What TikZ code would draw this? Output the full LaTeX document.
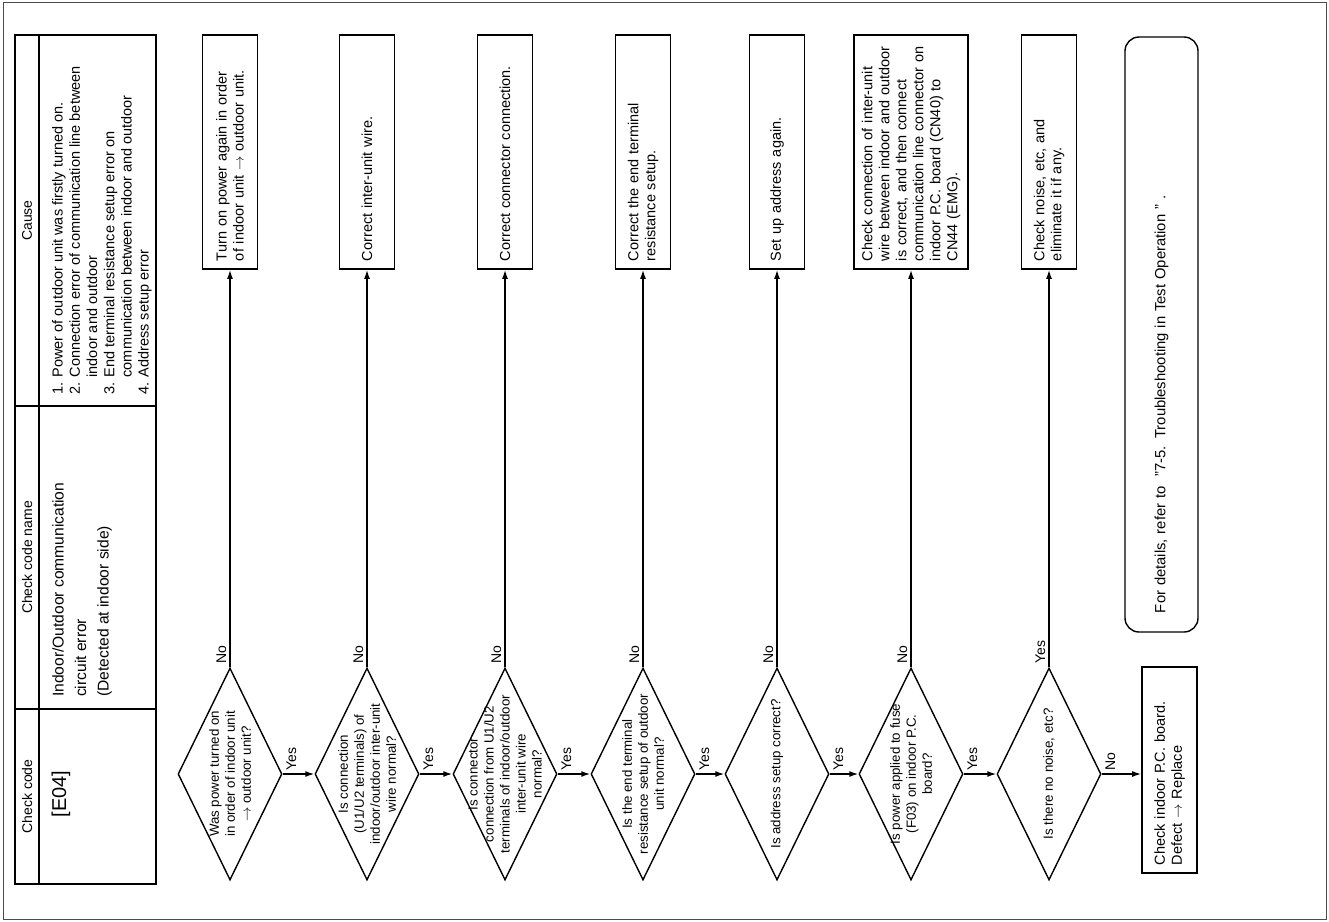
\documentclass[tikz,border=0pt]{standalone}
\usepackage{fontspec}
\setmainfont{Liberation Sans}
\usepackage{tikz}
\usetikzlibrary{shapes.geometric,arrows.meta}

\begin{document}
\begin{tikzpicture}[x=1pt, y=-1pt,
        decision/.style={diamond, draw, line width=1.4pt, minimum width=104pt, minimum height=212pt, inner sep=0pt},
        qtext/.style={rotate=90, align=center, inner sep=0pt, font=\fontsize{13.3}{16}\selectfont},
        action/.style={draw, line width=1.7pt, rotate=90, minimum width=234pt, minimum height=55pt, text width=218pt, inner xsep=8pt, inner ysep=3pt, align=left, font=\fontsize{14.5}{17}\selectfont},
        cell/.style={rotate=90, inner sep=0pt, font=\fontsize{14}{16}\selectfont},
        lab/.style={rotate=90, inner sep=3pt, font=\fontsize{14}{16}\selectfont},
        conn/.style={line width=1.4pt, -{Latex[length=9pt,width=6pt]}}]
        \useasboundingbox (0,0) rectangle (1329,921);
        \draw[black!70, line width=1pt] (3,2) rectangle (1326,919);
        % table
        \draw[line width=2.6pt] (15,35) rectangle (156,884);
        \draw[line width=1.3pt] (39,35) -- (39,884);
        \draw[line width=1.3pt] (15,406) -- (156,406) (15,709) -- (156,709);
        \node[cell] (hcause) at (27,220.5) {Cause};
        \node[cell] (hname) at (27,557.5) {Check code name};
        \node[cell] (hcode) at (27,796.5) {Check code};
        \node[cell, font=\fontsize{20}{22}\selectfont] (code) at (61,794) {[E04]};
        \node[cell, anchor=north west, align=left, font=\fontsize{15.6}{22.5}\selectfont] (name) at (52,697)
            {Indoor/Outdoor communication\\circuit error\\(Detected at indoor side)};
        \node[cell, anchor=north west, align=left, font=\fontsize{14.5}{17.2}\selectfont] (cause) at (52,395)
            {1. Power of outdoor unit was firstly turned on.\\%
             2. Connection error of communication line between\\%
             \phantom{2. }indoor and outdoor\\%
             3. End terminal resistance setup error on\\%
             \phantom{3. }communication between indoor and outdoor\\%
             4. Address setup error};
        % questions
        \node[decision, label={[qtext]center:{Was power turned on\\in order of indoor unit\\$\rightarrow$ outdoor unit?}}] (q1) at (230,774) {};
        \node[decision, label={[qtext]center:{Is connection\\(U1/U2 terminals) of\\indoor/outdoor inter-unit\\wire normal?}}] (q2) at (367,774) {};
        \node[decision, label={[qtext]center:{Is connector\\connection from U1/U2\\terminals of indoor/outdoor\\inter-unit wire\\normal?}}] (q3) at (505,774) {};
        \node[decision, label={[qtext]center:{Is the end terminal\\resistance setup of outdoor\\unit normal?}}] (q4) at (643,774) {};
        \node[decision, label={[qtext]center:{Is address setup correct?}}] (q5) at (777,774) {};
        \node[decision, label={[qtext]center:{Is power applied to fuse\\(F03) on indoor P.C.\\board?}}] (q6) at (911,774) {};
        \node[decision, label={[qtext]center:{Is there no noise, etc?}}] (q7) at (1049,774) {};
        % remedies
        \node[action] (a1) at (230,152) {Turn on power again in order\\of indoor unit $\rightarrow$ outdoor unit.};
        \node[action] (a2) at (367,152) {Correct inter-unit wire.};
        \node[action] (a3) at (505,152) {Correct connector connection.};
        \node[action] (a4) at (643,152) {Correct the end terminal\\resistance setup.};
        \node[action] (a5) at (777,152) {Set up address again.};
        \node[action, minimum height=114pt] (a6) at (911,152) {Check connection of inter-unit\\wire between indoor and outdoor\\is correct, and then connect\\communication line connector on\\indoor P.C. board (CN40) to\\CN44 (EMG).};
        \node[action] (a7) at (1049,152) {Check noise, etc, and\\eliminate it if any.};
        \node[action, minimum width=206pt, text width=190pt] (fin) at (1169.5,770) {Check indoor P.C. board.\\Defect $\rightarrow$ Replace};
        \node[action, rounded corners=14pt, line width=1.4pt, minimum width=595pt, minimum height=73pt, text width=557pt, inner xsep=19pt, font=\fontsize{14.8}{17}\selectfont] (ref) at (1161.5,334.5)
            {For details, refer to\ \ "7-5. Troubleshooting in Test Operation " .};
        % connectors
        \draw[conn] (q1.north) -- node[lab, pos=0, anchor=south west] (n1) {No} (a1.west);
        \draw[conn] (q2.north) -- node[lab, pos=0, anchor=south west] (n2) {No} (a2.west);
        \draw[conn] (q3.north) -- node[lab, pos=0, anchor=south west] (n3) {No} (a3.west);
        \draw[conn] (q4.north) -- node[lab, pos=0, anchor=south west] (n4) {No} (a4.west);
        \draw[conn] (q5.north) -- node[lab, pos=0, anchor=south west] (n5) {No} (a5.west);
        \draw[conn] (q6.north) -- node[lab, pos=0, anchor=south west] (n6) {No} (a6.west);
        \draw[conn] (q7.north) -- node[lab, pos=0, anchor=south west] (y7) {Yes} (a7.west);
        \draw[conn] (q1.east) -- node[lab, pos=0, anchor=north west] (y1) {Yes} (q2.west);
        \draw[conn] (q2.east) -- node[lab, pos=0, anchor=north west] (y2) {Yes} (q3.west);
        \draw[conn] (q3.east) -- node[lab, pos=0, anchor=north west] (y3) {Yes} (q4.west);
        \draw[conn] (q4.east) -- node[lab, pos=0, anchor=north west] (y4) {Yes} (q5.west);
        \draw[conn] (q5.east) -- node[lab, pos=0, anchor=north west] (y5) {Yes} (q6.west);
        \draw[conn] (q6.east) -- node[lab, pos=0, anchor=north west] (y6) {Yes} (q7.west);
        \draw[conn] (q7.east) -- node[lab, pos=0, anchor=north west] (n7) {No} (q7.east -| fin.north);
    \end{tikzpicture}
\end{document}
